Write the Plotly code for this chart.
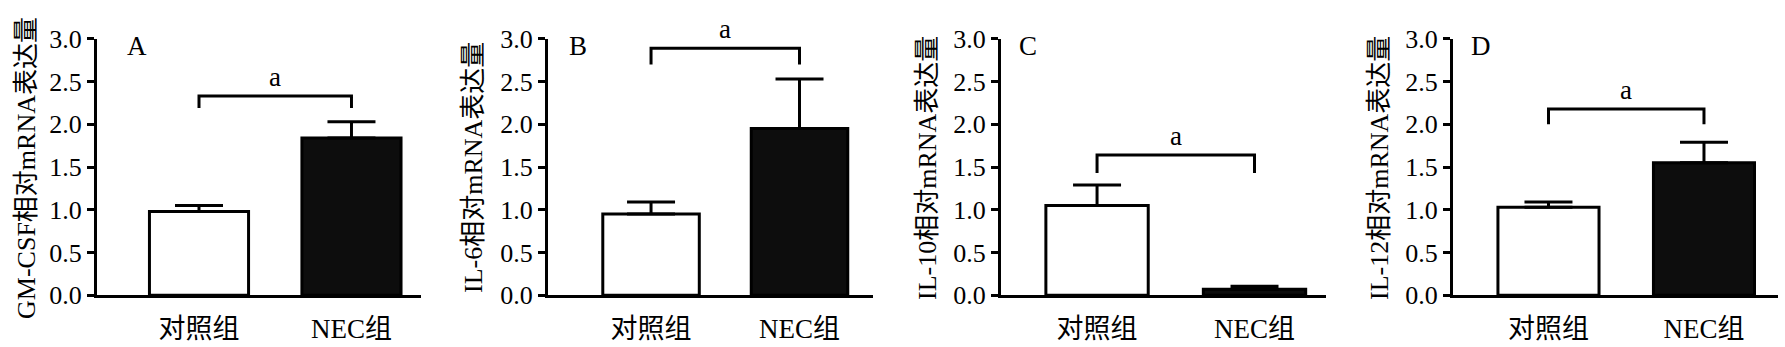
import plotly.graph_objects as go

# ---- data ----
categories = ["对照组", "NEC组"]
panel_letters = ["A", "B", "C", "D"]
y_titles = ["GM-CSF相对mRNA表达量", "IL-6相对mRNA表达量", "IL-10相对mRNA表达量", "IL-12相对mRNA表达量"]
control_mean = [0.98, 0.95, 1.05, 1.03]
control_err = [0.07, 0.14, 0.24, 0.06]
nec_mean = [1.84, 1.95, 0.07, 1.55]
nec_err = [0.19, 0.58, 0.035, 0.24]
bracket_top = [2.33, 2.89, 1.64, 2.18]
bracket_leg = [2.19, 2.70, 1.43, 2.00]
sig_label = ["a", "a", "a", "a"]
y_ticks = [0.0, 0.5, 1.0, 1.5, 2.0, 2.5, 3.0]

# ---- layout geometry (pixels) ----
W, H = 1785, 347
axis_px = [(97, 421), (548, 873), (1001, 1326), (1453, 1778)]
x_ranges = [(-0.669, 1.456), (-0.694, 1.495), (-0.61, 1.454), (-0.614, 1.476)]
title_x_px = [27, 474, 928, 1380]
letter_x_px = [137, 578, 1028, 1481]
y_top_px, y_bot_px = 27, 307

FONT = "Liberation Serif, Times New Roman, Noto Sans CJK SC, serif"
fig = go.Figure()

for i in range(4):
    xa = "x" if i == 0 else f"x{i+1}"
    ya = "y" if i == 0 else f"y{i+1}"
    fig.add_trace(go.Bar(
        x=[categories[0]], y=[control_mean[i]], xaxis=xa, yaxis=ya, width=0.65,
        marker=dict(color="white", line=dict(color="black", width=3)),
        error_y=dict(type="data", array=[control_err[i]], arrayminus=[0], symmetric=False,
                     color="black", thickness=3, width=24),
        showlegend=False, hoverinfo="skip"))
    fig.add_trace(go.Bar(
        x=[categories[1]], y=[nec_mean[i]], xaxis=xa, yaxis=ya, width=0.65,
        marker=dict(color="#0d0d0d", line=dict(color="black", width=3)),
        error_y=dict(type="data", array=[nec_err[i]], arrayminus=[0], symmetric=False,
                     color="black", thickness=3, width=24),
        showlegend=False, hoverinfo="skip"))
    # significance bracket
    fig.add_trace(go.Scatter(
        x=[categories[0], categories[0], categories[1], categories[1]],
        y=[bracket_leg[i], bracket_top[i], bracket_top[i], bracket_leg[i]],
        xaxis=xa, yaxis=ya, mode="lines", line=dict(color="black", width=3),
        cliponaxis=False, showlegend=False, hoverinfo="skip"))
    fig.add_annotation(x=0.5, y=bracket_top[i], xref=xa, yref=ya, text=sig_label[i],
                       showarrow=False, yanchor="bottom", yshift=2,
                       font=dict(family=FONT, size=27, color="black"))

    x0, x1 = axis_px[i]
    dom = [x0 / W, x1 / W]
    ydom = [(H - y_bot_px) / H, (H - y_top_px) / H]
    fig.layout[f"xaxis{'' if i == 0 else i+1}"] = dict(
        domain=dom, anchor=ya, type="category", range=list(x_ranges[i]),
        showline=True, linecolor="black", linewidth=3, ticks="outside",
        ticklen=7, tickcolor="rgba(0,0,0,0)", showgrid=False, zeroline=False,
        tickfont=dict(family=FONT, size=27, color="black"), fixedrange=True)
    fig.layout[f"yaxis{'' if i == 0 else i+1}"] = dict(
        domain=ydom, anchor=xa, range=[0, 3.0], tickvals=y_ticks,
        ticktext=[f"{v:.1f}" for v in y_ticks],
        showline=True, linecolor="black", linewidth=3, ticks="outside",
        ticklen=7, tickwidth=2.5, tickcolor="black", showgrid=False, zeroline=False,
        tickfont=dict(family=FONT, size=26, color="black"), fixedrange=True)

    fig.add_annotation(x=title_x_px[i] / W, y=(H - 168) / H, xref="paper", yref="paper",
                       text=y_titles[i], textangle=-90, showarrow=False,
                       xanchor="center", yanchor="middle",
                       font=dict(family=FONT, size=26, color="black"))
    fig.add_annotation(x=letter_x_px[i] / W, y=(H - 35) / H, xref="paper", yref="paper",
                       text=panel_letters[i], showarrow=False,
                       xanchor="center", yanchor="middle",
                       font=dict(family=FONT, size=27, color="black"))

fig.update_layout(width=W, height=H, margin=dict(l=0, r=0, t=0, b=0),
                  plot_bgcolor="white", paper_bgcolor="white", barmode="overlay",
                  font=dict(family=FONT, color="black"))

fig.write_html("out.html")
